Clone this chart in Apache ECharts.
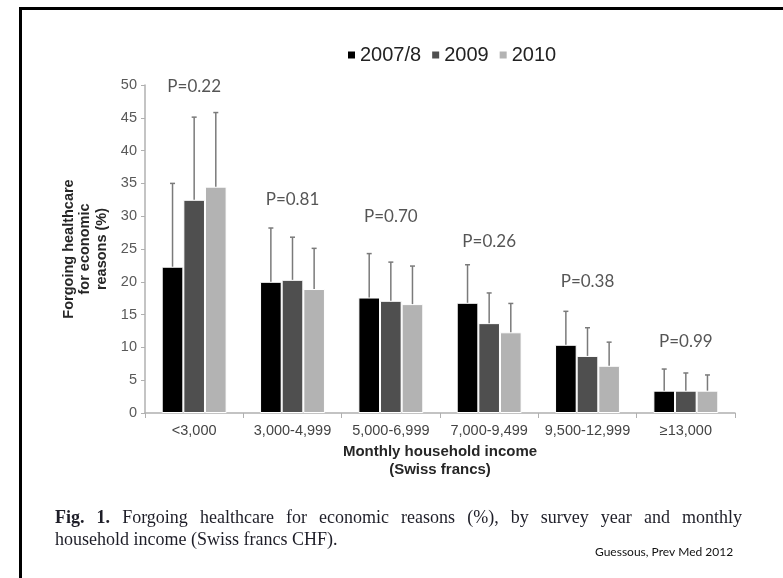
<!DOCTYPE html>
<html>
<head>
<meta charset="utf-8">
<script src="https://cdn.jsdelivr.net/npm/echarts@6/dist/echarts.min.js"></script>
<style>
  html, body { margin: 0; padding: 0; background: #fff; }
  #chart { width: 783px; height: 578px; }
</style>
</head>
<body>
<div id="chart"></div>
<script>
// Income bands (monthly household income, CHF)
const categories = ['<3,000', '3,000-4,999', '5,000-6,999', '7,000-9,499', '9,500-12,999', '≥13,000'];
const years = ['2007/8', '2009', '2010'];

// Share forgoing healthcare for economic reasons (%)
const pct2007 = [22.3, 20.0, 17.6, 16.8, 10.4, 3.4];
const pct2009 = [32.5, 20.3, 17.1, 13.7, 8.7, 3.4];
const pct2010 = [34.5, 18.9, 16.6, 12.3, 7.2, 3.4];

// Upper ends of the confidence intervals (%)
const upper2007 = [35.0, 28.2, 24.3, 22.6, 15.5, 6.7];
const upper2009 = [45.1, 26.8, 23.0, 18.3, 13.0, 6.1];
const upper2010 = [45.8, 25.1, 22.4, 16.7, 10.8, 5.8];

// Trend test p-values per income band, and the level (%) they are written at
const pValues = ['P=0.22', 'P=0.81', 'P=0.70', 'P=0.26', 'P=0.38', 'P=0.99'];
const pLabelLevel = [49.7, 32.6, 29.9, 26.2, 20.0, 10.9];

const yTicks = { min: 0, max: 50, interval: 5 };

const barColors = ['#000000', '#4f4f4f', '#b3b3b3'];
const CATEGORY_GAP = 0.34;

const values = [pct2007, pct2009, pct2010];
const uppers = [upper2007, upper2009, upper2010];

const chart = echarts.init(document.getElementById('chart'), null, { renderer: 'canvas' });

function errorSeries(k) {
  return {
    type: 'custom',
    name: years[k] + ' CI',
    silent: true,
    z: 5,
    data: categories.map((c, i) => [i, values[k][i], uppers[k][i]]),
    renderItem: function (params, api) {
      const band = api.size([1, 0])[0];
      const bw = band * (1 - CATEGORY_GAP) / 3;
      const base = api.coord([api.value(0), api.value(1)]);
      const top = api.coord([api.value(0), api.value(2)]);
      const x = base[0] + (k - 1) * bw;
      const st = { stroke: '#7a7a7a', lineWidth: 1.5 };
      return {
        type: 'group',
        children: [
          { type: 'line', shape: { x1: x, y1: base[1], x2: x, y2: top[1] }, style: st },
          { type: 'line', shape: { x1: x - 2.5, y1: top[1], x2: x + 2.5, y2: top[1] }, style: st }
        ]
      };
    }
  };
}

// Justified caption line built word by word
const measureCtx = document.createElement('canvas').getContext('2d');
function captionWords(words, x0, x1, y) {
  const els = [];
  const widths = words.map(w => {
    measureCtx.font = (w.bold ? 'bold ' : '') + '18px "Liberation Serif"';
    return measureCtx.measureText(w.t).width;
  });
  const total = widths.reduce((a, b) => a + b, 0);
  const gap = (x1 - x0 - total) / (words.length - 1);
  let x = x0;
  words.forEach((w, i) => {
    els.push({
      type: 'text', x: x, y: y, silent: true,
      style: {
        text: w.t, fontFamily: 'Liberation Serif', fontSize: 18,
        fontWeight: w.bold ? 'bold' : 'normal', fill: '#1e1e28',
        align: 'left', verticalAlign: 'middle'
      }
    });
    x += widths[i] + gap;
  });
  return els;
}

const line1 = 'Fig. 1. Forgoing healthcare for economic reasons (%), by survey year and monthly'
  .split(' ').map((t, i) => ({ t: t, bold: i < 2 }));

const option = {
  backgroundColor: '#ffffff',
  animation: false,
  textStyle: { fontFamily: 'Liberation Sans' },
  legend: {
    data: years,
    left: 346,
    top: 45,
    padding: 0,
    itemWidth: 9,
    itemHeight: 9,
    itemGap: 9,
    icon: 'rect',
    textStyle: { fontFamily: 'Liberation Sans', fontSize: 20, color: '#222222', padding: [0, 0, 0, -1] }
  },
  grid: { left: 145, right: 48, top: 85, bottom: 165 },
  xAxis: {
    type: 'category',
    data: categories,
    axisLine: { lineStyle: { color: '#b0b0b0', width: 1.5 } },
    axisTick: { show: true, length: 5, inside: false, lineStyle: { color: '#b0b0b0' } },
    axisLabel: { fontFamily: 'Liberation Sans', fontSize: 14.5, color: '#444444', margin: 10, interval: 0 },
    name: 'Monthly household income\n(Swiss francs)',
    nameLocation: 'middle',
    nameGap: 29,
    nameTextStyle: { fontFamily: 'Liberation Sans', fontSize: 15, fontWeight: 'bold', color: '#262626', lineHeight: 18 }
  },
  yAxis: {
    type: 'value',
    min: yTicks.min,
    max: yTicks.max,
    interval: yTicks.interval,
    splitLine: { show: false },
    axisLine: { show: true, lineStyle: { color: '#b0b0b0', width: 1.5 } },
    axisTick: { show: true, length: 4, lineStyle: { color: '#b0b0b0' } },
    axisLabel: { fontFamily: 'Liberation Sans', fontSize: 14.5, color: '#595959', margin: 8 },
    name: 'Forgoing healthcare\nfor economic\nreasons (%)',
    nameLocation: 'middle',
    nameRotate: 90,
    nameGap: 35,
    nameTextStyle: { fontFamily: 'Liberation Sans', fontSize: 14.5, fontWeight: 'bold', color: '#262626', lineHeight: 16.5 }
  },
  series: [
    ...years.map((y, k) => ({
      type: 'bar',
      name: y,
      data: values[k],
      barGap: '0%',
      barCategoryGap: (CATEGORY_GAP * 100) + '%',
      itemStyle: { color: barColors[k], borderColor: '#ffffff', borderWidth: 1 },
      silent: true
    })),
    errorSeries(0), errorSeries(1), errorSeries(2),
    {
      type: 'scatter',
      name: 'p',
      silent: true,
      symbolSize: 0,
      data: pValues.map((p, i) => ({ name: p, value: [i, pLabelLevel[i]] })),
      label: {
        show: true,
        position: 'inside',
        formatter: (d) => d.name,
        fontFamily: 'Lato',
        fontSize: 17,
        color: '#2a2a2a'
      },
      z: 6
    }
  ],
  graphic: [
    {
      type: 'rect', silent: true,
      shape: { x: 20.5, y: 8.5, width: 800, height: 600 },
      style: { fill: 'none', stroke: '#000000', lineWidth: 3 }
    },
    ...captionWords(line1, 55, 742, 518),
    {
      type: 'text', x: 55, y: 540, silent: true,
      style: {
        text: 'household income (Swiss francs CHF).', fontFamily: 'Liberation Serif', fontSize: 18,
        fill: '#1e1e28', align: 'left', verticalAlign: 'middle'
      }
    },
    {
      type: 'text', x: 595, y: 552, silent: true,
      style: {
        text: 'Guessous, Prev Med 2012', fontFamily: 'Lato', fontSize: 12,
        fill: '#111111', align: 'left', verticalAlign: 'middle'
      }
    }
  ]
};

chart.setOption(option);
</script>
</body>
</html>
